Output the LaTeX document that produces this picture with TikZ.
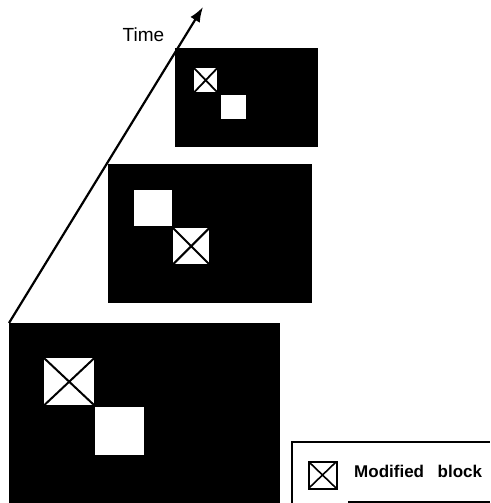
\documentclass[tikz,border=0pt]{standalone}
\usepackage{fontspec}
\setmainfont{Liberation Sans}
\usetikzlibrary{arrows.meta}
\tikzset{
  frame/.style={fill=black, draw=none, inner sep=0pt, anchor=north west},
  blk/.style={fill=white, draw=none, inner sep=0pt, anchor=north west},
  xblk/.style={blk, path picture={\draw[line width=#1] (path picture bounding box.north west) -- (path picture bounding box.south east) (path picture bounding box.north east) -- (path picture bounding box.south west);}},
  xblk/.default=1.6pt,
  timearrow/.style={line width=2.2pt, -{Latex[length=15pt,width=11pt]}},
  legline/.style={line width=1.6pt},
}
\begin{document}
\begin{tikzpicture}[x=1pt,y=-1pt]
\useasboundingbox (0,0) rectangle (490,503);
% frames
\node[frame, minimum width=271pt, minimum height=181pt] (f1) at (9,323) {};
\node[frame, minimum width=204pt, minimum height=139pt] (f2) at (108,164) {};
\node[frame, minimum width=143pt, minimum height=99pt] (f3) at (175,48) {};
% blocks bottom frame
\node[xblk=2pt, minimum width=50pt, minimum height=47pt] (b1x) at (44,358) {};
\node[blk, minimum width=49pt, minimum height=48pt] (b1w) at (95,407) {};
% blocks middle frame
\node[blk, minimum width=38pt, minimum height=36pt] (b2w) at (134,190) {};
\node[xblk=2pt, minimum width=36pt, minimum height=36pt] (b2x) at (173,228) {};
% blocks top frame
\node[xblk=1.8pt, minimum width=23pt, minimum height=24pt] (b3x) at (194,68) {};
\node[blk, minimum width=25pt, minimum height=24pt] (b3w) at (221,95) {};
% time arrow
\coordinate (tip) at (203,7);
\draw[timearrow] (f1.north west) -- (tip);
\node[font=\fontsize{19}{21}\selectfont, inner sep=0pt] (time) at (143.5,35) {Time};
% legend
\coordinate (lgtl) at (292,442);
\coordinate (lgbl) at (292,503);
\coordinate (lgtr) at (490,442);
\coordinate (lgbm) at (348,502);
\coordinate (lgbr) at (490,502);
\draw[legline] (lgbl) -- (lgtl) -- (lgtr);
\draw[line width=2.6pt] (lgbl) -- (lgtl);
\draw[legline] (lgbm) -- (lgbr);
\node[draw, line width=2pt, fill=white, minimum width=28pt, minimum height=27pt, inner sep=0pt, anchor=north west,
  path picture={\draw[line width=1.6pt] (path picture bounding box.north west) -- (path picture bounding box.south east) (path picture bounding box.north east) -- (path picture bounding box.south west);}] (legicon) at (307.5,460.5) {};
\node[font=\bfseries\fontsize{17}{19}\selectfont, inner sep=0pt, anchor=west] (legtext) at (354,471) {Modified\hspace{0.8em}block};
\end{tikzpicture}
\end{document}
